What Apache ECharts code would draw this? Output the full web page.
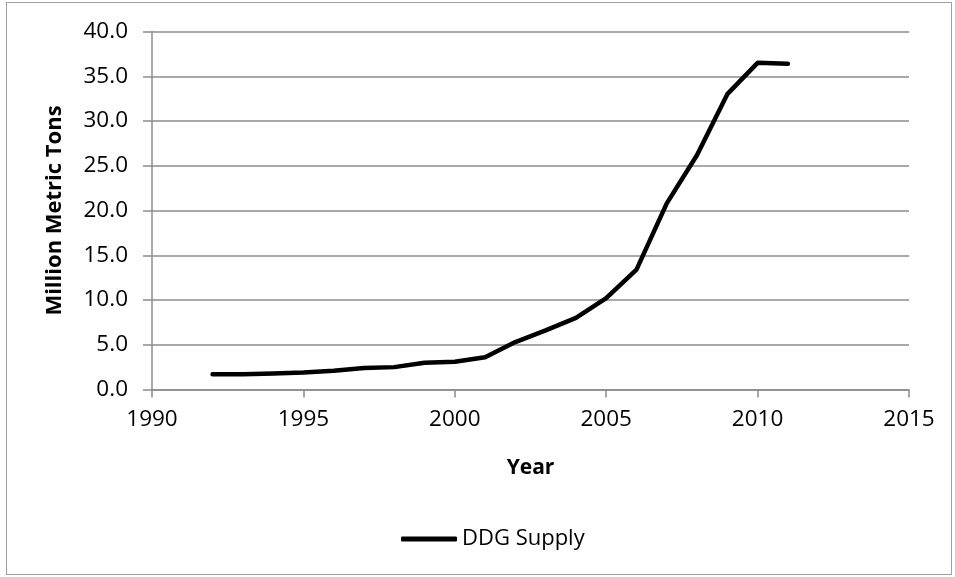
<!DOCTYPE html>
<html>
<head>
<meta charset="utf-8">
<script src="https://cdn.jsdelivr.net/npm/echarts@6/dist/echarts.min.js"></script>
<style>
html,body{margin:0;padding:0;background:#fff;}
#frame{position:absolute;left:6px;top:2px;width:946px;height:573px;border:1px solid #a0a0a0;box-sizing:border-box;}
#chart{position:absolute;left:0;top:0;width:955px;height:577px;}
</style>
</head>
<body>
<div id="frame"></div>
<div id="chart"></div>
<script>
const years = [1992, 1993, 1994, 1995, 1996, 1997, 1998, 1999, 2000, 2001, 2002, 2003, 2004, 2005, 2006, 2007, 2008, 2009, 2010, 2011];
const supply = [1.7, 1.7, 1.8, 1.9, 2.1, 2.4, 2.5, 3.0, 3.1, 3.6, 5.3, 6.6, 8.0, 10.2, 13.4, 20.8, 26.2, 33.0, 36.5, 36.4];
const seriesName = 'DDG Supply';
const xTitle = 'Year';
const yTitle = 'Million Metric Tons';

const gray = '#8c8c8c';
const font = 'Open Sans';
const chart = echarts.init(document.getElementById('chart'), null, {renderer: 'canvas'});
chart.setOption({
  animation: false,
  backgroundColor: 'transparent',
  grid: {left: 152, right: 46, top: 31.5, bottom: 187.5, containLabel: false},
  xAxis: {
    type: 'value', min: 1990, max: 2015, interval: 5,
    name: xTitle, nameLocation: 'middle', nameGap: 68,
    nameTextStyle: {fontFamily: font, fontSize: 21, fontWeight: 'bold', color: '#000'},
    axisLine: {show: true, lineStyle: {color: gray, width: 1.5}},
    axisTick: {show: true, length: 8, lineStyle: {color: gray, width: 1.5}},
    axisLabel: {fontFamily: font, fontSize: 22.5, color: '#000', margin: 19, formatter: v => String(v)},
    splitLine: {show: false}
  },
  yAxis: {
    type: 'value', min: 0, max: 40, interval: 5,
    name: yTitle, nameLocation: 'middle', nameGap: 86, nameRotate: 90,
    nameTextStyle: {fontFamily: font, fontSize: 22, fontWeight: 'bold', color: '#000'},
    axisLine: {show: true, lineStyle: {color: gray, width: 1.5}},
    axisTick: {show: true, inside: false, length: 9, lineStyle: {color: gray, width: 1.5}},
    axisLabel: {fontFamily: font, fontSize: 22.5, color: '#000', margin: 24, formatter: v => v.toFixed(1)},
    splitLine: {show: true, lineStyle: {color: gray, width: 1.5}}
  },
  legend: {
    data: [seriesName], left: 396, top: 523, itemWidth: 56, itemHeight: 5, icon: 'roundRect',
    textStyle: {fontFamily: font, fontSize: 22, color: '#000'}
  },
  series: [{
    name: seriesName, type: 'line',
    data: years.map((y, i) => [y, supply[i]]),
    showSymbol: false, symbol: 'none',
    lineStyle: {color: '#000', width: 4.5, cap: 'round', join: 'round'},
    itemStyle: {color: '#000'}
  }]
});
</script>
</body>
</html>
